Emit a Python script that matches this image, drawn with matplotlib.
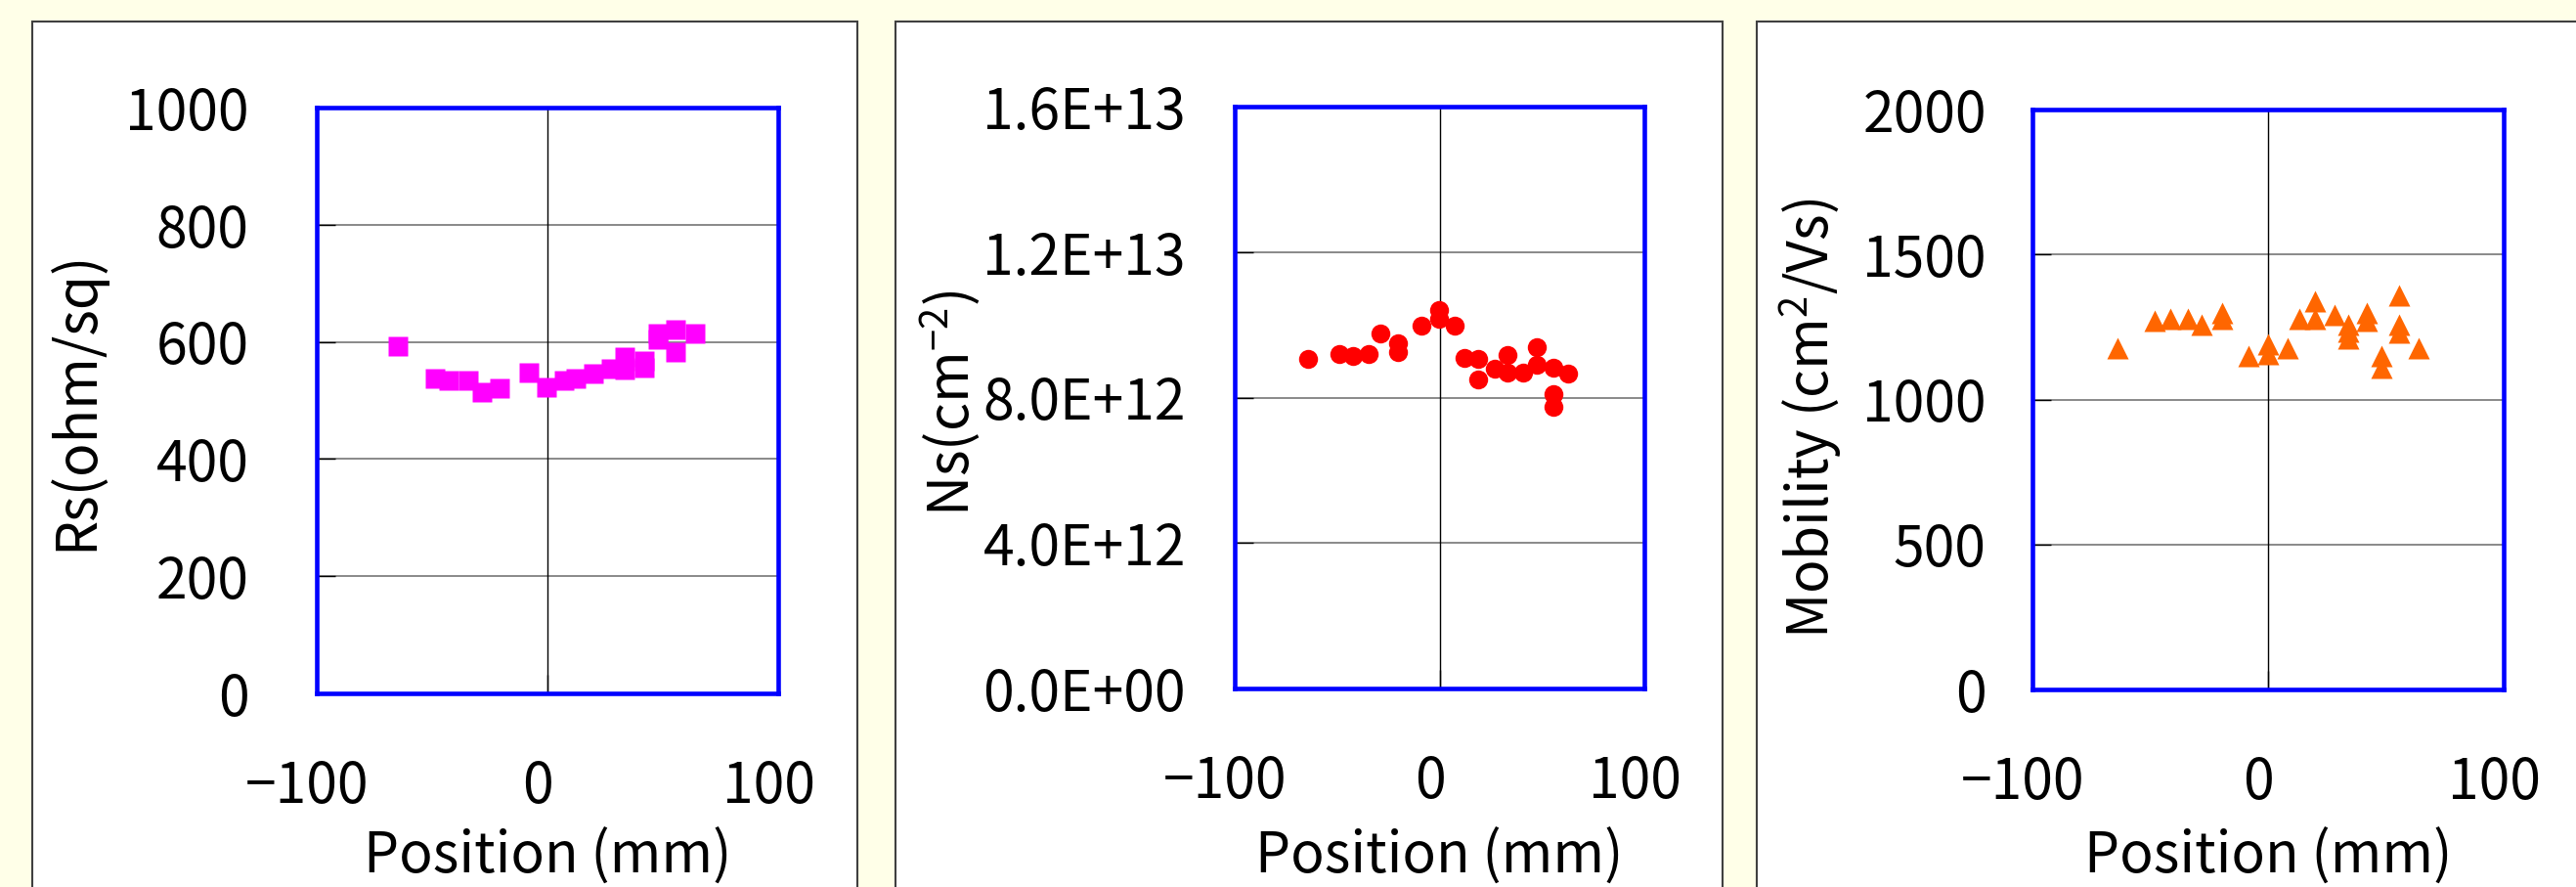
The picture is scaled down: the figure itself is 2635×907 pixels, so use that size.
import matplotlib
matplotlib.use("Agg")
import matplotlib.pyplot as plt
import matplotlib.transforms as mtransforms
from matplotlib.patches import Rectangle
from matplotlib.ticker import FuncFormatter

plt.rcParams['font.family'] = ['Noto Sans CJK JP', 'DejaVu Sans']
plt.rcParams['mathtext.fontset'] = 'custom'
plt.rcParams['mathtext.rm'] = 'Noto Sans CJK JP'
plt.rcParams['mathtext.default'] = 'regular'

# sheet resistance
rs_x = [-64.7, -48.6, -42.7, -34.2, -28.3, -20.6, -7.9, -0.3, 7.3, 12.2, 20.0,
        27.4, 33.6, 33.6, 42.1, 42.1, 47.9, 47.9, 55.6, 55.6, 64.1]
rs_y = [592, 538, 535, 535, 515, 521, 548, 522, 535, 538, 546,
        554, 574, 553, 568, 556, 615, 604, 621, 583, 615]

# sheet carrier density (x1e12)
ns_x = [-64.1, -49.0, -42.2, -34.7, -28.8, -20.3, -20.3, -8.8, -0.1, -0.1, 7.3, 12.3,
        19.0, 19.0, 27.2, 33.2, 33.2, 40.9, 47.7, 47.7, 55.4, 55.4, 55.4, 62.9]
ns_y = [9.06, 9.21, 9.15, 9.21, 9.75, 9.50, 9.25, 9.97, 10.40, 10.17, 9.97, 9.10,
        9.06, 8.51, 8.79, 9.17, 8.69, 8.69, 9.39, 8.90, 8.81, 8.09, 7.75, 8.67]

# mobility
mob_x = [-63.7, -48.1, -41.5, -34.2, -28.1, -19.7, -19.7, -8.2, 0.1, 0.1, 8.4, 13.2, 20.1,
         20.1, 28.1, 34.2, 34.2, 34.2, 41.8, 41.8, 55.8, 55.8, 55.8, 48.2, 48.2, 64.1]
mob_y = [1177, 1273, 1278, 1278, 1258, 1298, 1278, 1150, 1191, 1156, 1177, 1278, 1340,
         1278, 1292, 1258, 1233, 1211, 1298, 1273, 1359, 1258, 1231, 1151, 1110, 1177]

x_ticks = [-100, 0, 100]

W, H = 2635, 907
fig = plt.figure(figsize=(W / 100, H / 100), dpi=100)
fig.patch.set_facecolor('#FFFFE8')

FS = 41


def px_axes(x0, y0, x1, y1):
    # pixel box (top-left origin) -> figure axes
    ax = fig.add_axes([x0 / W, 1 - y1 / H, (x1 - x0) / W, (y1 - y0) / H])
    ax.set_zorder(2)
    return ax


def panel_box(x0, x1):
    r = Rectangle((x0 / W, -0.1), (x1 - x0) / W, 1.1 - 22 / H,
                  transform=fig.transFigure, facecolor='white',
                  edgecolor='#404040', lw=1.5)
    r.set_zorder(-5)
    fig.add_artist(r)


def style(ax, yticks, ylabel, ypad, ylab_x, ylab_y, xlab_y):
    ax.set_xlim(-100, 100)
    ax.set_xticks(x_ticks)
    ax.set_ylim(yticks[0], yticks[-1])
    ax.set_yticks(yticks)
    for s in ax.spines.values():
        s.set_color('#0000FF')
        s.set_linewidth(3.3)
        s.set_zorder(5)
    ax.grid(axis='y', color='#808080', lw=1.3)
    ax.axvline(0, color='black', lw=1, zorder=1)
    ax.tick_params(axis='both', direction='in', length=14, width=1, color='black',
                   labelsize=FS)
    ax.tick_params(axis='y', pad=ypad)
    ax.tick_params(axis='x', pad=48)
    ax.set_axisbelow(True)
    shift = mtransforms.ScaledTranslation(-10 / 100, 0, fig.dpi_scale_trans)
    for lab in ax.get_xticklabels():
        lab.set_transform(lab.get_transform() + shift)
    ax.set_xlabel('Position (mm)', fontsize=FS)
    ax.xaxis.set_label_coords(0.5, xlab_y)
    ax.xaxis.label.set_va('center')
    ax.set_ylabel(ylabel, fontsize=FS)
    ax.yaxis.set_label_coords(ylab_x, ylab_y)
    ax.yaxis.label.set_va('center')


panel_box(33, 877)
panel_box(916, 1762)
panel_box(1797, 2660)

ax1 = px_axes(324, 110, 796, 709)
ax2 = px_axes(1263, 109, 1682, 704)
ax3 = px_axes(2079, 112, 2561, 705)

ax1.plot(rs_x, rs_y, 's', color='#FF00FF', ms=14, mec='none', zorder=3)
style(ax1, [0, 200, 400, 600, 800, 1000], 'Rs(ohm/sq)', 50, -0.522, 0.5, -0.279)

ax2.plot(ns_x, [v * 1e12 for v in ns_y], 'o', color='#FF0000', ms=14, mec='none', zorder=3)
style(ax2, [0, 4e12, 8e12, 1.2e13, 1.6e13], 'Ns(cm$^{-2}$)', 36, -0.695, 0.49, -0.29)
ax2.yaxis.set_major_formatter(FuncFormatter(lambda v, p: f"{v:.1E}"))

ax3.plot(mob_x, mob_y, '^', color='#FF6600', ms=15.5, mec='none', zorder=3)
style(ax3, [0, 500, 1000, 1500, 2000], 'Mobility (cm$^2$/Vs)', 34, -0.471, 0.467, -0.29)

fig.savefig('out.png', dpi=100, facecolor=fig.get_facecolor())
